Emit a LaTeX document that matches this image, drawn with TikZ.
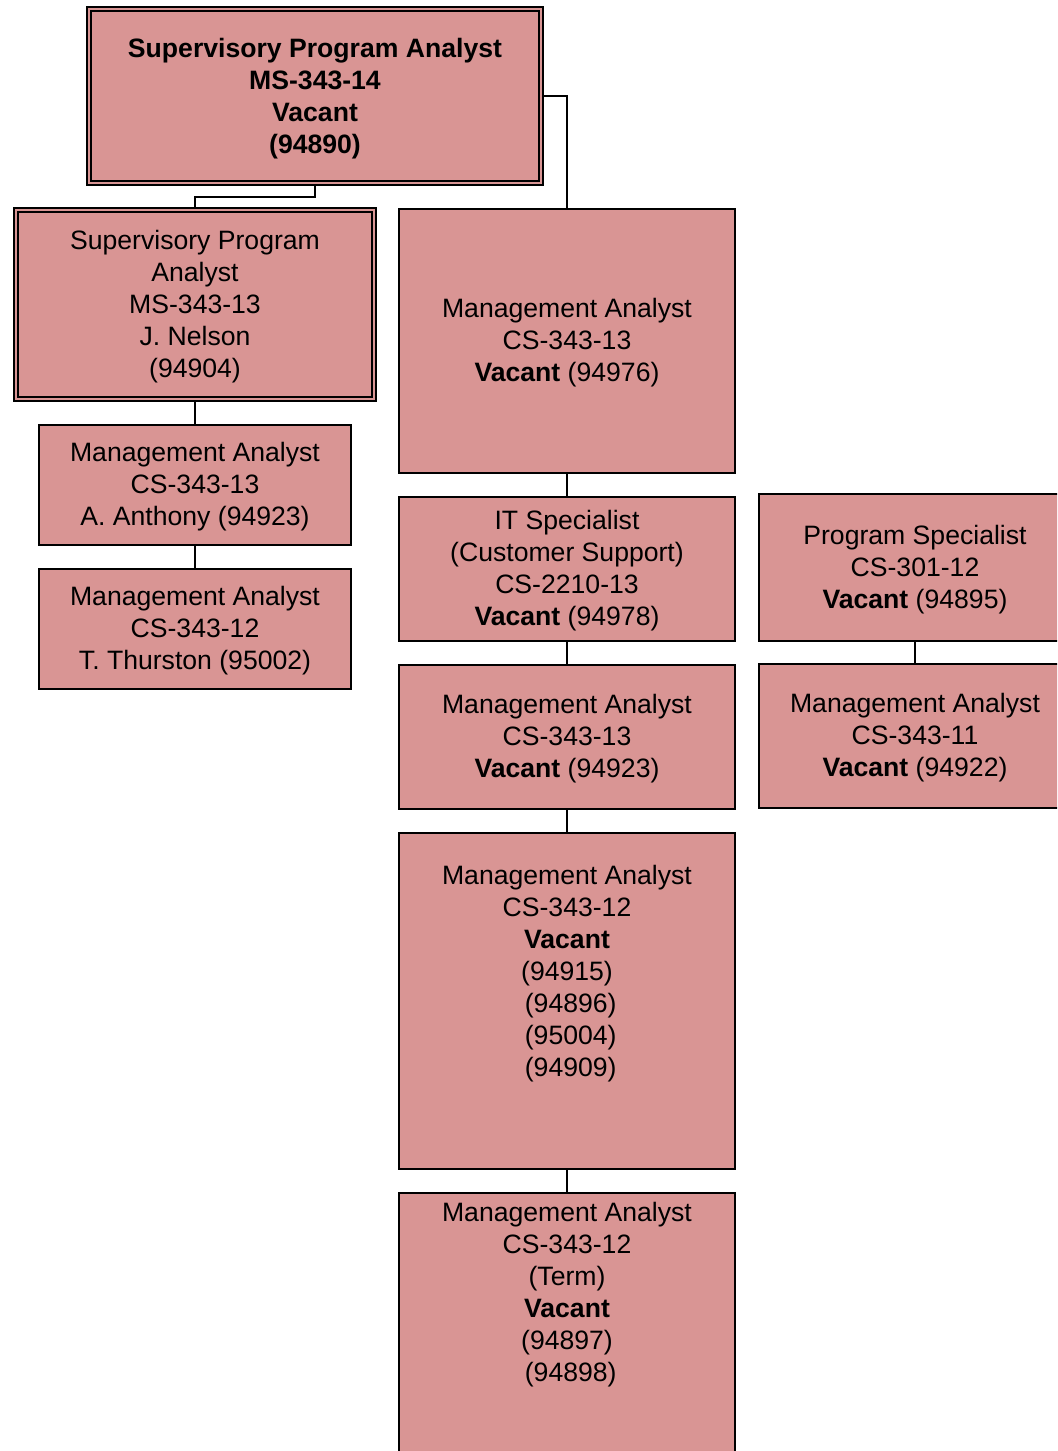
\documentclass[tikz,border=0pt]{standalone}
\usepackage{fontspec}
\setmainfont{Liberation Sans}
\definecolor{boxfill}{HTML}{D99594}
\tikzset{
  posbox/.style={draw=black, line width=1pt, fill=boxfill, anchor=north west, inner sep=0, outer sep=0},
  conn/.style={line width=0.75pt},
  txt/.style={align=center, font=\fontsize{13.3}{16}\selectfont, inner sep=0, yshift=-1.5pt}
}
\begin{document}
\begin{tikzpicture}[x=0.5pt,y=-0.5pt]
\clip (0,0) rectangle (1057,1451);
\fill[white] (0,0) rectangle (1057,1451);
% boxes
\node[posbox, minimum width=228pt, minimum height=89pt] (top) at (87,7) {};
\draw[line width=1pt] ([shift={(2pt,-2pt)}]top.north west) rectangle ([shift={(-2pt,2pt)}]top.south east);
\node[posbox, minimum width=181pt, minimum height=96.5pt] (sup) at (14,208) {};
\draw[line width=1pt] ([shift={(2pt,-2pt)}]sup.north west) rectangle ([shift={(-2pt,2pt)}]sup.south east);
\node[posbox, minimum width=156pt, minimum height=60pt] (la) at (39,425) {};
\node[posbox, minimum width=156pt, minimum height=60pt] (lb) at (39,569) {};
\node[posbox, minimum width=168pt, minimum height=132pt] (ma) at (399,209) {};
\node[posbox, minimum width=168pt, minimum height=72pt] (mb) at (399,497) {};
\node[posbox, minimum width=168pt, minimum height=72pt] (mc) at (399,665) {};
\node[posbox, minimum width=168pt, minimum height=168pt] (md) at (399,833) {};
\node[posbox, minimum width=168pt, minimum height=150pt] (me) at (399,1193) {};
\node[posbox, minimum width=156pt, minimum height=73.5pt] (ra) at (759,494) {};
\node[posbox, minimum width=156pt, minimum height=72pt] (rb) at (759,664) {};
% connectors
\draw[conn] (top.south) -- ++(0,-6pt) -| (sup.north);
\draw[conn] (top.east) -| (ma.north);
\draw[conn] (sup.south) -- (la.north);
\draw[conn] (la.south) -- (lb.north);
\draw[conn] (ma.south) -- (mb.north);
\draw[conn] (mb.south) -- (mc.north);
\draw[conn] (mc.south) -- (md.north);
\draw[conn] (md.south) -- (me.north);
\draw[conn] (ra.south) -- (rb.north);
% texts
\node[txt, font=\fontsize{13.3}{16}\selectfont\bfseries] (ttop) at (315,96) {Supervisory Program Analyst\\MS-343-14\\Vacant\\(94890)};
\node[txt] (tsup) at (195,304) {Supervisory Program\\Analyst\\MS-343-13\\J. Nelson\\(94904)};
\node[txt] (tla) at (195,484) {Management Analyst\\CS-343-13\\A. Anthony (94923)};
\node[txt] (tlb) at (195,628) {Management Analyst\\CS-343-12\\T. Thurston (95002)};
\node[txt] (tma) at (567,340) {Management Analyst\\CS-343-13\\\textbf{Vacant} (94976)};
\node[txt] (tmb) at (567,568) {IT Specialist\\(Customer Support)\\CS-2210-13\\\textbf{Vacant} (94978)};
\node[txt] (tmc) at (567,736) {Management Analyst\\CS-343-13\\\textbf{Vacant} (94923)};
\node[txt] (tmd) at (567,971) {Management Analyst\\CS-343-12\\\textbf{Vacant}\\(94915)\\\hspace*{0.278em}(94896)\\\hspace*{0.278em}(95004)\\\hspace*{0.278em}(94909)};
\node[txt] (tme) at (567,1292) {Management Analyst\\CS-343-12\\(Term)\\\textbf{Vacant}\\(94897)\\\hspace*{0.278em}(94898)};
\node[txt] (tra) at (915,567) {Program Specialist\\CS-301-12\\\textbf{Vacant} (94895)};
\node[txt] (trb) at (915,735) {Management Analyst\\CS-343-11\\\textbf{Vacant} (94922)};
\end{tikzpicture}
\end{document}
